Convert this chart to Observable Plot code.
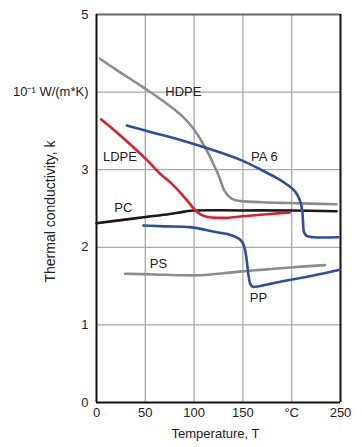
<!DOCTYPE html>
<html>
<head>
<meta charset="utf-8">
<script src="https://cdn.jsdelivr.net/npm/d3@7"></script>
<script src="https://cdn.jsdelivr.net/npm/@observablehq/plot@0.6"></script>
<style>
  html, body { margin: 0; padding: 0; background: #fff; }
  #chart svg { display: block; }
</style>
</head>
<body>
<div id="chart"></div>
<script>
const xTicks = [0, 50, 100, 150, 200, 250];
const xTickLabels = ["0", "50", "100", "150", "°C", "250"];
const yTicks = [0, 1, 2, 3, 4, 5];
const yTickLabels = ["0", "1", "2", "3", "10⁻¹ W/(m*K)", "5"];

const hdpeT = [3.6, 20, 48, 70, 87, 98, 107, 115, 121, 126, 131, 136, 141.5, 148, 170, 198, 246];
const hdpeK = [4.43, 4.29, 4.06, 3.87, 3.70, 3.55, 3.38, 3.20, 3.04, 2.90, 2.73, 2.65, 2.61, 2.595, 2.58, 2.57, 2.555];

const ldpeT = [4.6, 20, 37.8, 52, 65, 77, 87, 95, 101, 107, 114, 125, 134, 150, 178, 198];
const ldpeK = [3.65, 3.49, 3.29, 3.12, 2.95, 2.82, 2.69, 2.57, 2.48, 2.42, 2.39, 2.38, 2.38, 2.40, 2.43, 2.45];

const pa6T = [31, 60, 86.8, 120, 148.7, 170, 185, 195, 202, 206.5, 209.5, 211, 211.7, 212.5, 215, 222, 247.6];
const pa6K = [3.57, 3.47, 3.38, 3.25, 3.12, 2.99, 2.89, 2.81, 2.74, 2.66, 2.56, 2.45, 2.30, 2.20, 2.15, 2.13, 2.13];

const pcT = [0, 25, 50, 75, 90, 100, 150, 200, 246];
const pcK = [2.31, 2.35, 2.39, 2.43, 2.46, 2.475, 2.475, 2.475, 2.465];

const ppT = [48, 70, 96, 121, 134, 141.5, 147, 150.5, 152.5, 154, 155.5, 157, 159, 161, 175, 189.4, 220, 249.3];
const ppK = [2.28, 2.27, 2.26, 2.20, 2.17, 2.14, 2.10, 2.04, 1.95, 1.82, 1.66, 1.55, 1.50, 1.49, 1.52, 1.56, 1.63, 1.71];

const psT = [29.3, 60, 86.8, 107, 130, 148.7, 175, 198, 234];
const psK = [1.66, 1.65, 1.64, 1.64, 1.665, 1.69, 1.715, 1.74, 1.77];

const labelNames = ["HDPE", "LDPE", "PA 6", "PC", "PS", "PP"];
const labelT = [89, 24, 172, 27.5, 63.5, 166];
const labelK = [4.0, 3.16, 3.16, 2.51, 1.79, 1.35];

const colGray = "#8c8c8c", colRed = "#d8232a", colBlue = "#2a509f", colBlack = "#1a1a1a";

const mk = (T, K) => T.map((t, i) => ({t, k: K[i]}));
const series = [
  {d: mk(hdpeT, hdpeK), c: colGray},
  {d: mk(psT, psK), c: colGray},
  {d: mk(pcT, pcK), c: colBlack},
  {d: mk(ldpeT, ldpeK), c: colRed},
  {d: mk(pa6T, pa6K), c: colBlue},
  {d: mk(ppT, ppK), c: colBlue}
];
const labels = labelNames.map((n, i) => ({n, t: labelT[i], k: labelK[i]}));

const chart = Plot.plot({
  width: 362,
  height: 447,
  marginLeft: 96,
  marginRight: 22,
  marginTop: 14,
  marginBottom: 45,
  style: {fontFamily: "'Liberation Sans', Arial, sans-serif", fontSize: "13px", color: "#222", background: "#fff"},
  x: {domain: [0, 250], ticks: xTicks, tickFormat: d => xTickLabels[xTicks.indexOf(d)], label: null},
  y: {domain: [0, 5], ticks: yTicks, tickFormat: d => yTickLabels[yTicks.indexOf(d)], label: null},
  marks: [
    Plot.ruleX(xTicks.slice(1, -1), {stroke: "#a8a8a8", strokeWidth: 1.3}),
    Plot.ruleY(yTicks.slice(1, -1), {stroke: "#a8a8a8", strokeWidth: 1.3}),
    Plot.ruleY([5], {stroke: "#666", strokeWidth: 2}),
    Plot.ruleX([250], {stroke: "#111", strokeWidth: 2}),
    Plot.ruleX([0], {stroke: "#111", strokeWidth: 2}),
    Plot.ruleY([0], {stroke: "#111", strokeWidth: 2}),
    Plot.axisX({ticks: xTicks, tickSize: 0, tickPadding: 5, fontSize: 13, tickFormat: d => xTickLabels[xTicks.indexOf(d)], label: null}),
    Plot.axisY({ticks: yTicks, tickSize: 0, tickPadding: 8, fontSize: 13, tickFormat: d => yTickLabels[yTicks.indexOf(d)], label: null}),
    ...series.map(s => Plot.line(s.d, {x: "t", y: "k", stroke: s.c, strokeWidth: 2.6, curve: "catmull-rom"})),
    Plot.text(labels, {x: "t", y: "k", text: "n", fontSize: 13, fill: "#222"}),
    Plot.text(["Temperature, T"], {frameAnchor: "bottom", dy: 35, dx: -3, fontSize: 13, fill: "#222"}),
    Plot.text(["Thermal conductivity, k"], {frameAnchor: "left", textAnchor: "middle", dx: -46, dy: 3, rotate: -90, fontSize: 14, fill: "#222"})
  ]
});
document.getElementById("chart").appendChild(chart);
</script>
</body>
</html>
